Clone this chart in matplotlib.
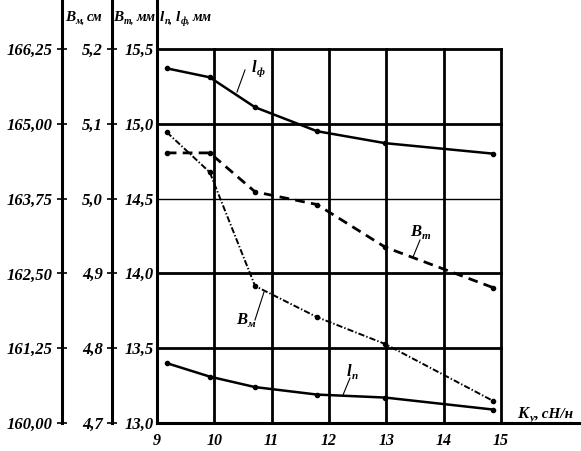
import matplotlib
matplotlib.use("Agg")
import matplotlib.pyplot as plt
from matplotlib.lines import Line2D
from matplotlib.transforms import IdentityTransform

# K_y, cN/n at the measured points
k_y = [9.17, 9.92, 10.71, 11.79, 12.98, 14.86]
l_f = [15.37, 15.31, 15.11, 14.95, 14.87, 14.80]     # mm
l_p = [13.40, 13.31, 13.24, 13.19, 13.17, 13.09]     # mm
b_t = [5.061, 5.061, 5.009, 4.992, 4.935, 4.881]     # mm
b_m = [164.86, 164.19, 162.29, 161.77, 161.32, 160.37]  # cm

x_ticks = [9, 10, 11, 12, 13, 14, 15]
l_ticks = [13.0, 13.5, 14.0, 14.5, 15.0, 15.5]
bt_ticks = [4.7, 4.8, 4.9, 5.0, 5.1, 5.2]
bm_ticks = [160.00, 161.25, 162.50, 163.75, 165.00, 166.25]

W, H = 581, 451
plt.rcParams["lines.scale_dashes"] = False
FONT = dict(family="Liberation Serif", style="italic", weight="bold")

fig = plt.figure(figsize=(W / 100, H / 100), dpi=100)
x0_px, x9_px, x15_px = 157, 157, 501
ppu = (x15_px - x9_px) / 6.0
rect = [x0_px / W, (H - 423) / H, (W - x0_px) / W, 423 / H]
xlim = (9, 9 + (W - x0_px) / ppu)

ax = fig.add_axes(rect)
ax.set_xlim(*xlim)
ax.set_ylim(13.0, 15.5 + 49 / 150)
for s in ("top", "right"):
    ax.spines[s].set_visible(False)
ax.spines["left"].set_linewidth(2.2)
ax.spines["bottom"].set_linewidth(2.2)
ax.set_xticks(x_ticks)
ax.set_xticklabels([str(v) for v in x_ticks], fontsize=11.5, **FONT)
ax.set_yticks(l_ticks)
ax.set_yticklabels([f"{v:.1f}".replace(".", ",") for v in l_ticks], fontsize=12, **FONT)
ax.tick_params(axis="x", length=0, pad=7)
ax.tick_params(axis="y", length=0, pad=2)

# grid
for xv in x_ticks[1:]:
    ax.plot([xv, xv], [l_ticks[0], l_ticks[-1]], color="k", lw=2.0, zorder=1)
for yv in l_ticks[1:]:
    ax.plot([x_ticks[0], x_ticks[-1]], [yv, yv], color="k",
            lw=1.0 if yv == 14.5 else 2.0, zorder=1)

ax.plot(k_y, l_f, color="k", lw=1.8, marker="o", ms=3, zorder=3)
ax.plot(k_y, l_p, color="k", lw=1.8, marker="o", ms=3, zorder=3)


def side_axis(offset_px, lo, hi, per_px, ticks, fmt):
    a = fig.add_axes(rect, sharex=ax, facecolor="none")
    a.xaxis.set_visible(False)
    for s in ("top", "right", "bottom"):
        a.spines[s].set_visible(False)
    top = hi + 49 * per_px
    a.set_ylim(lo, top)
    a.spines["left"].set_position(("axes", (offset_px - x0_px) / (W - x0_px)))
    a.spines["left"].set_bounds(lo, top)
    a.spines["left"].set_linewidth(2.2)
    a.set_yticks(ticks)
    a.set_yticklabels([fmt(v) for v in ticks], fontsize=12, **FONT)
    a.tick_params(axis="y", direction="inout", length=7, width=1.2, pad=3)
    return a


ax2 = side_axis(112, 4.7, 5.2, 0.1 / 75, bt_ticks,
                lambda v: f"{v:.1f}".replace(".", ","))
ax3 = side_axis(62, 160.0, 166.25, 6.25 / 374, bm_ticks,
                lambda v: f"{v:.2f}".replace(".", ","))

ax2.plot(k_y, b_t, color="k", lw=2.0, dashes=(7, 4.5), marker="o", ms=3, zorder=3)
ax3.plot(k_y, b_m, color="k", lw=1.4, dashes=(4.5, 1.5, 1, 1.5), marker="o", ms=3, zorder=3)

renderer = fig.canvas.get_renderer()


def rich(x, y, parts):
    """parts: (text, fontsize, baseline shift in px downward, gap px before)."""
    for txt, size, dy, gap in parts:
        t = fig.text(x + gap, H - y - dy, txt, transform=IdentityTransform(),
                     fontsize=size, va="baseline", ha="left", **FONT)
        x = t.get_window_extent(renderer).x1 + 0.5


rich(65, 21, [("B", 11, 0, 0), ("м,", 7, 3, 0), ("см", 10, 0, 2)])
rich(113, 21, [("B", 11, 0, 0), ("т,", 7, 3, 0), ("мм", 10, 0, 2)])
rich(160, 21, [("l", 11, 0, 0), ("п,", 7, 3, 0), ("l", 11, 0, 3),
               ("ф,", 7, 3, 0), ("мм", 10, 0, 2)])

rich(252, 72, [("l", 12, 0, 0), ("ф", 8, 3, 0)])
rich(410, 236, [("B", 12, 0, 0), ("т", 8, 3, 0)])
rich(236, 324, [("B", 12, 0, 0), ("м", 8, 3, 0)])
rich(347, 376, [("l", 12, 0, 0), ("п", 8, 3, 0)])
rich(517, 418, [("K", 12, 0, 0), ("у", 8, 3, 0), (", сН/н", 11, 0, 0)])

# leader lines
leaders = [((245, 70), (237, 92)), ((420, 240), (413, 257)),
           ((264, 292), (255, 320)), ((350, 378), (343, 395))]
for (xa, ya), (xb, yb) in leaders:
    fig.add_artist(Line2D([xa, xb], [H - ya, H - yb], transform=IdentityTransform(),
                          color="k", lw=0.8))

fig.savefig("out.png", dpi=100)
